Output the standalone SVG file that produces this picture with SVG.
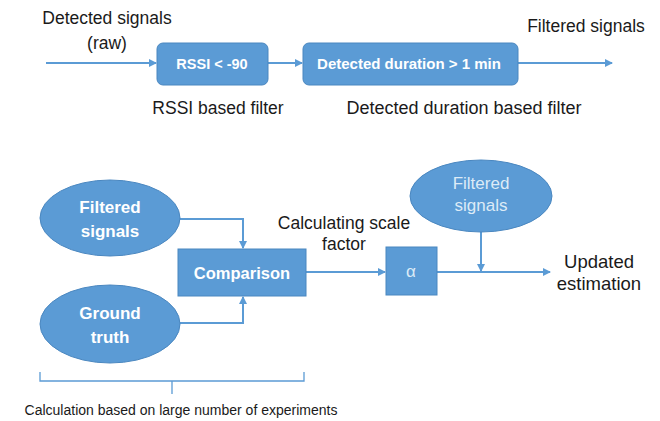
<svg xmlns="http://www.w3.org/2000/svg" width="660" height="421" viewBox="0 0 660 421">
<style>
.lbl{font-family:"Liberation Sans",Arial,sans-serif;font-size:17.5px;fill:#1a1a1a;text-anchor:middle}
.box{fill:#5B9BD5;stroke:#4A87C0;stroke-width:1}
.bt{font-family:"Liberation Sans",Arial,sans-serif;font-size:14.5px;font-weight:bold;fill:#ffffff;text-anchor:middle}
.et{font-family:"Liberation Sans",Arial,sans-serif;font-size:17px;font-weight:bold;fill:#ffffff;text-anchor:middle}
.et2{font-family:"Liberation Sans",Arial,sans-serif;font-size:17px;fill:#DDEBF7;text-anchor:middle}
.ln{fill:none;stroke:#5B9BD5;stroke-width:2}
.br{fill:none;stroke:#5B9BD5;stroke-width:1.3}
</style>
<defs>
<marker id="ah" markerWidth="8" markerHeight="8" refX="7" refY="4" orient="auto" markerUnits="userSpaceOnUse">
<path d="M0,0 L8,4 L0,8 z" fill="#5B9BD5"/>
</marker>
</defs>
<rect width="660" height="421" fill="#ffffff"/>
<g id="connectors">
<line class="ln" x1="46" y1="63" x2="156" y2="63" marker-end="url(#ah)"/>
<line class="ln" x1="268" y1="63" x2="302" y2="63" marker-end="url(#ah)"/>
<line class="ln" x1="518" y1="63" x2="612" y2="63" marker-end="url(#ah)"/>
<polyline class="ln" points="180,219 243,219 243,248" marker-end="url(#ah)"/>
<polyline class="ln" points="180,323 243,323 243,297" marker-end="url(#ah)"/>
<line class="ln" x1="306" y1="272" x2="385" y2="272" marker-end="url(#ah)"/>
<line class="ln" x1="437" y1="272" x2="550" y2="272" marker-end="url(#ah)"/>
<line class="ln" x1="481" y1="232" x2="481" y2="271" marker-end="url(#ah)"/>
</g>
<g id="n-raw-label"><text class="lbl" x="107" y="24">Detected signals</text><text class="lbl" x="107" y="49">(raw)</text></g>
<g id="n-rssi"><rect class="box" x="157" y="43" width="111" height="42" rx="6"/><text class="bt" x="212" y="69">RSSI &lt; -90</text></g>
<g id="n-rssi-label"><text class="lbl" x="218" y="114">RSSI based filter</text></g>
<g id="n-duration"><rect class="box" x="303" y="43" width="215" height="42" rx="6"/><text class="bt" style="font-size:15px" x="409" y="69">Detected duration &gt; 1 min</text></g>
<g id="n-duration-label"><text class="lbl" style="font-size:18px" x="464" y="114">Detected duration based filter</text></g>
<g id="n-filtered-label"><text class="lbl" x="586" y="32">Filtered signals</text></g>
<g id="n-filtered1"><ellipse class="box" cx="110" cy="218" rx="70" ry="38"/><text class="et" x="110" y="213">Filtered</text><text class="et" x="110" y="237">signals</text></g>
<g id="n-ground"><ellipse class="box" cx="110" cy="324" rx="70" ry="39"/><text class="et" x="110" y="319">Ground</text><text class="et" x="110" y="343">truth</text></g>
<g id="n-comparison"><rect class="box" x="178" y="249" width="128" height="47"/><text class="et" style="font-size:16.5px" x="242" y="279">Comparison</text></g>
<g id="n-scale-label"><text class="lbl" x="344" y="229">Calculating scale</text><text class="lbl" x="344" y="250">factor</text></g>
<g id="n-alpha"><rect class="box" x="386" y="247" width="51" height="48"/><text class="et2" x="411" y="277">α</text></g>
<g id="n-filtered2"><ellipse class="box" cx="481" cy="196" rx="71" ry="36"/><text class="et2" x="481" y="189">Filtered</text><text class="et2" x="481" y="211">signals</text></g>
<g id="n-updated-label"><text class="lbl" style="font-size:18.5px" x="599" y="268">Updated</text><text class="lbl" style="font-size:18.5px" x="599" y="290">estimation</text></g>
<g id="n-brace"><path class="br" d="M40,372 L40,381 L304,381 L304,372 M172,381 L172,394"/><text class="lbl" style="font-size:14px" x="181" y="415">Calculation based on large number of experiments</text></g>
</svg>
